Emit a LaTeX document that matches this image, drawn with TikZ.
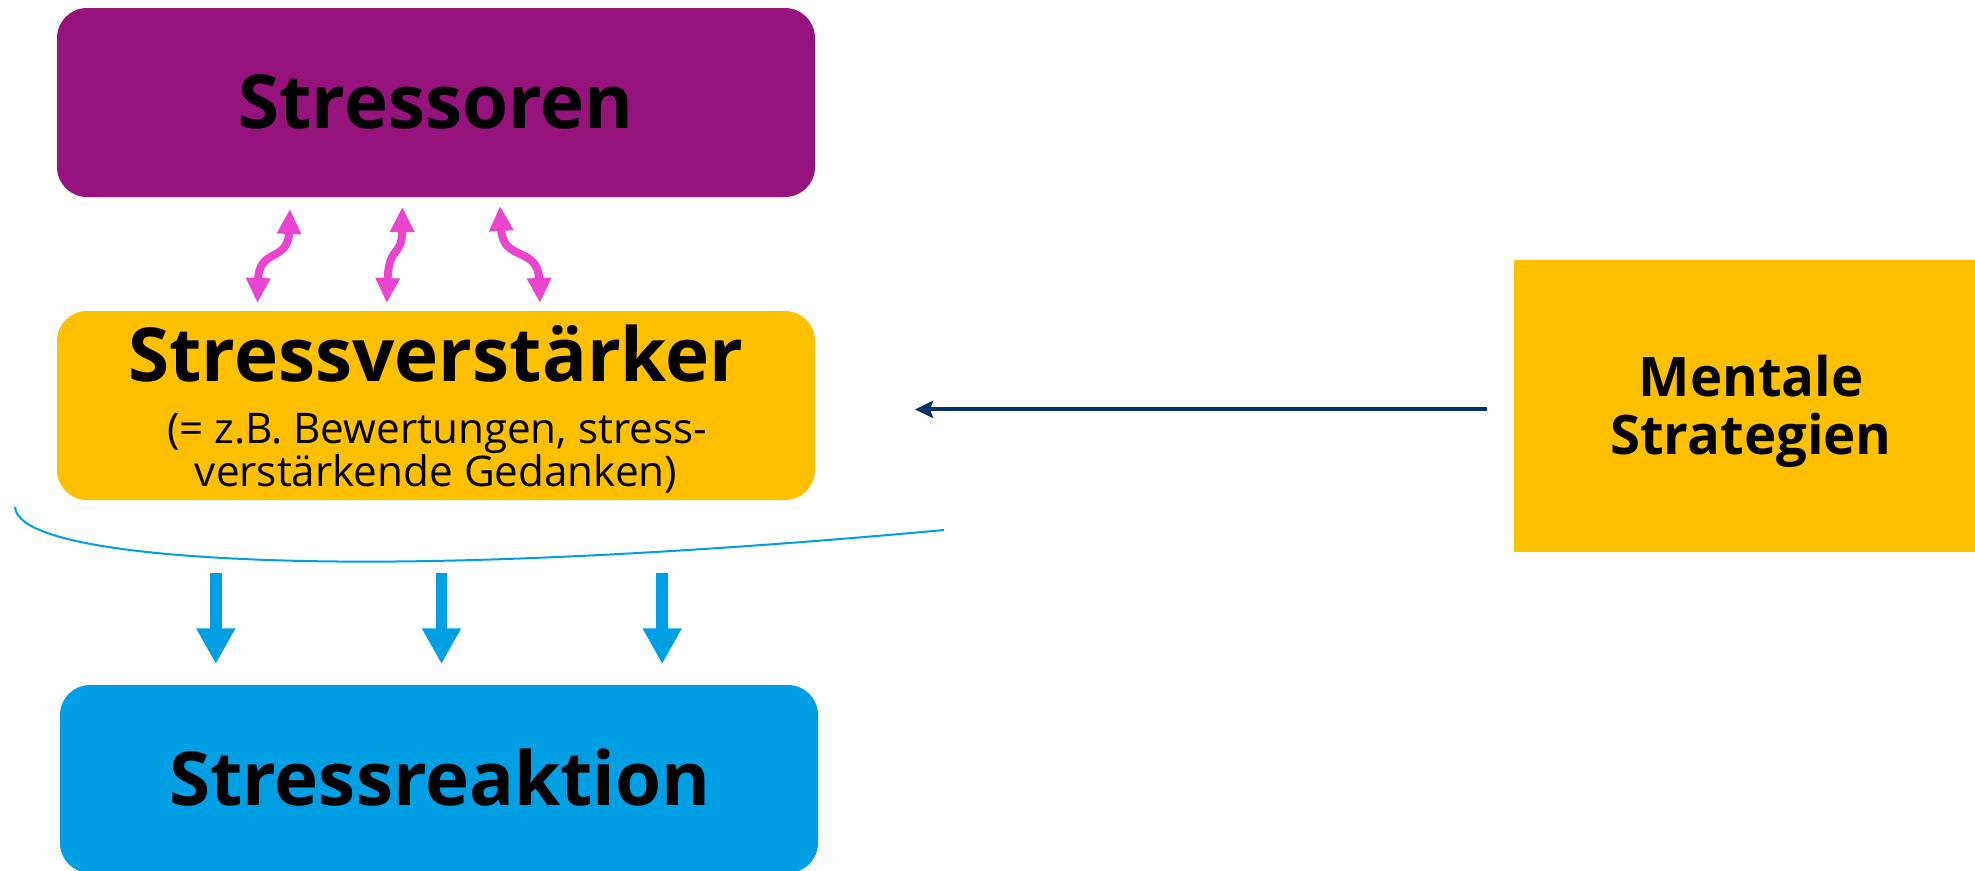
\documentclass[tikz,border=0pt]{standalone}
\usepackage{fontspec}
\setmainfont{Open Sans}
\usetikzlibrary{arrows.meta}
\definecolor{purp}{RGB}{150,18,124}
\definecolor{gold}{RGB}{255,192,0}
\definecolor{skyb}{RGB}{0,159,227}
\definecolor{navy}{RGB}{0,51,102}
\definecolor{pinkm}{RGB}{234,68,208}
\tikzset{
  boxshape/.style={draw=none, inner sep=0pt, outer sep=0pt, rectangle},
  roundbox/.style={boxshape, rounded corners=30pt},
  txt/.style={inner sep=0pt, outer sep=0pt, anchor=base, text=black},
  bigtitle/.style={txt, font=\fontsize{74.5}{80}\selectfont\bfseries},
  subtxt/.style={txt, font=\fontsize{42.2}{46}\selectfont},
  sidetxt/.style={txt, font=\fontsize{54.5}{57.3}\selectfont\bfseries},
  wavy/.style={pinkm, line width=8pt, {Triangle[length=25pt,width=23pt]}-{Triangle[length=25pt,width=23pt]}},
  blockarrow/.style={skyb, line width=11.7pt, -{Triangle[length=35.7pt,width=36.7pt]}},
  pointer/.style={navy, line width=4pt, -{Stealth[length=18pt,width=17pt,inset=3pt]}},
  bracecurve/.style={skyb, line width=2pt}
}
\begin{document}
\begin{tikzpicture}[x=1pt,y=-1pt]
\useasboundingbox (0,0) rectangle (1975,870);

% boxes
\node[roundbox, fill=purp, minimum width=758pt, minimum height=189pt] (so) at (436,102.5) {};
\node[roundbox, fill=gold, minimum width=758pt, minimum height=189pt] (sv) at (436,405.5) {};
\node[roundbox, fill=skyb, minimum width=758pt, minimum height=188pt] (sr) at (439,779) {};
\node[boxshape, fill=gold, minimum width=474pt, minimum height=292pt] (ms) at (1751,406) {};

% texts
\node[bigtitle] (sot) at (436,128) {Stressoren};
\node[bigtitle] (svt) at (436,381.7) {Stressverstärker};
\node[subtxt] (svs1) at (437,443.3) {(= z.B. Bewertungen, stress-};
\node[subtxt] (svs2) at (436,486.7) {verstärkende Gedanken)};
\node[bigtitle] (srt) at (440,805) {Stressreaktion};
\node[sidetxt] (mst1) at (1751,396.7) {Mentale};
\node[sidetxt] (mst2) at (1751,454) {Strategien};

% pink interaction arrows
\coordinate (p1a) at (290,209);  \coordinate (p1b) at (257.5,303);
\coordinate (p2a) at (402.3,207); \coordinate (p2b) at (386.7,303);
\coordinate (p3a) at (500,206);  \coordinate (p3b) at (540,303);
\draw[wavy] (p1a) .. controls (288,262) and (259,248) .. (p1b);
\draw[wavy] (p2a) .. controls (402,258) and (389,244) .. (p2b);
\draw[wavy] (p3a) .. controls (503,262) and (538,246) .. (p3b);

% blue curve
\coordinate (ca) at (15,507);
\coordinate (cm) at (395,561.5);
\coordinate (cb) at (944,530);
\draw[bracecurve] (ca) .. controls (18,552) and (230,563) .. (cm)
                       .. controls (560,560) and (760,547) .. (cb);

% blue block arrows
\coordinate (b1a) at (215.8,572.7); \coordinate (b1b) at (215.8,664);
\coordinate (b2a) at (441.5,572.7); \coordinate (b2b) at (441.5,664);
\coordinate (b3a) at (662.2,572.7); \coordinate (b3b) at (662.2,664);
\draw[blockarrow] (b1a) -- (b1b);
\draw[blockarrow] (b2a) -- (b2b);
\draw[blockarrow] (b3a) -- (b3b);

% pointer from Mentale Strategien
\coordinate (na) at (1487,409.4);
\coordinate (nb) at (915,409.4);
\draw[pointer] (na) -- (nb);
\end{tikzpicture}
\end{document}
